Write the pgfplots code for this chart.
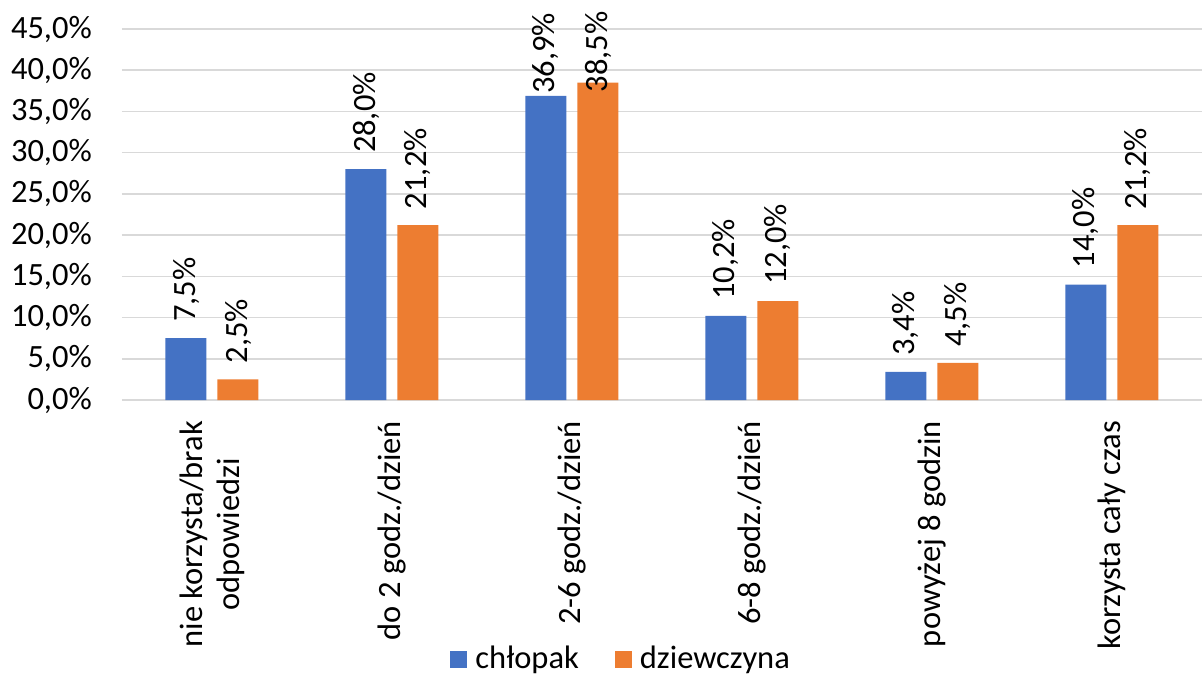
\documentclass[border=0pt]{standalone}
\usepackage{fontspec}
\setmainfont{Carlito}
\usepackage{pgfplots}
\usepackage{pgfplotstable}
\pgfplotsset{compat=1.18}
\definecolor{cblue}{HTML}{4472C4}
\definecolor{corange}{HTML}{ED7D31}
\definecolor{cgrid}{HTML}{D9D9D9}
\pgfplotstableread{
x y g
0 7.5 16
1 28.0 16
2 36.9 2
3 10.2 16
4 3.4 16
5 14.0 16
}\chlopak
\pgfplotstableread{
x y g
0 2.5 16
1 21.2 16
2 38.5 -10
3 12.0 16
4 4.5 16
5 21.2 16
}\dziewczyna
\newcommand{\fs}{\fontsize{32.5pt}{37pt}\selectfont}
\begin{document}
\fs
\begin{tikzpicture}
\path[use as bounding box] (-122pt,-275pt) rectangle (1080pt,400pt);
\begin{axis}[
  at={(0pt,0pt)}, anchor=south west,
  scale only axis, width=1080pt, height=371pt,
  ybar=11pt, bar width=41pt,
  xmin=-0.5, xmax=5.5, ymin=0, ymax=45,
  xtick={0,1,2,3,4,5},
  xticklabels={{nie korzysta/brak\\odpowiedzi},{do 2 godz./dzień},{2-6 godz./dzień},{6-8 godz./dzień},{powyżej 8 godzin},{korzysta cały czas}},
  xticklabel style={rotate=90, anchor=east, align=center, inner xsep=21pt, inner ysep=0pt, font=\fs},
  ytick={0,5,...,45},
  yticklabel={\pgfmathprintnumber[fixed,fixed zerofill,precision=1,use comma]{\tick}\%},
  yticklabel style={anchor=east, inner sep=0pt, xshift=-30pt, font=\fs},
  /pgf/number format/assume math mode=true,
  major tick length=0pt,
  axis x line*=bottom, axis y line*=left,
  axis line style={draw=none},
  ymajorgrids, major grid style={cgrid, line width=1.5pt},
  visualization depends on={\thisrow{g} \as \gap},
  nodes near coords={\pgfmathprintnumber[fixed,fixed zerofill,precision=1,use comma]{\pgfplotspointmeta}\%},
  every node near coord/.append style={rotate=90, anchor=west, inner xsep=\gap pt, inner ysep=0pt, font=\fs, text=black},
  legend style={at={(0.465,-0.70)}, anchor=center, draw=none, fill=none, legend columns=2,
    font=\fs,
    /tikz/every even column/.append style={column sep=28pt},
    nodes={inner xsep=8pt}},
]
\addplot[fill=cblue, draw=none, legend image code/.code={\fill[cblue] (0pt,-8.5pt) rectangle (17pt,8.5pt);}]
  table[x=x, y=y] {\chlopak};
\addplot[fill=corange, draw=none, legend image code/.code={\fill[corange] (0pt,-8.5pt) rectangle (17pt,8.5pt);}]
  table[x=x, y=y] {\dziewczyna};
\legend{chłopak, dziewczyna}
\end{axis}
\end{tikzpicture}
\end{document}
